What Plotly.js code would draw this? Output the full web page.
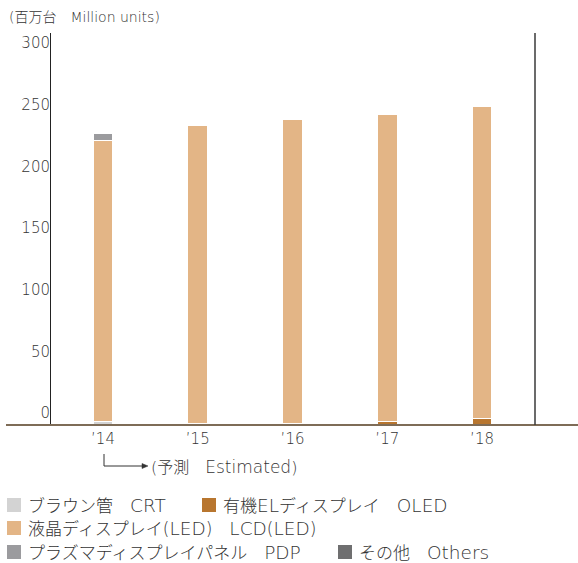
<!DOCTYPE html>
<html>
<head>
<meta charset="utf-8">
<script src="https://cdn.plot.ly/plotly-3.0.1.min.js"></script>
<style>html,body{margin:0;padding:0;background:#fff;}#chart{width:578px;height:563px;}</style>
</head>
<body>
<div id="chart"></div>
<script>
// ---- data ----
var years = ["’14", "’15", "’16", "’17", "’18"];
var crt    = [3, 1.5, 0, 0, 0];
var oled   = [0, 0, 1.5, 2.5, 5];
var lcd    = [228, 241.5, 246.5, 249.5, 253.5];
var pdp    = [5.5, 1, 0, 0, 0];
var others = [0, 0, 0, 0, 0];
var yTicks = [0, 50, 100, 150, 200, 250, 300];

var seriesNames = ["ブラウン管　CRT", "有機ELディスプレイ　OLED", "液晶ディスプレイ(LED)　LCD(LED)", "プラズマディスプレイパネル　PDP", "その他　Others"];
var colors = ["#d3d3d3", "#b8762f", "#e3b586", "#9b9b9e", "#6f6f70"];
var seriesData = [crt, oled, lcd, pdp, others];

var FONT = "'DejaVu Sans', 'Noto Sans CJK JP', sans-serif";
var W = 578, H = 563;
var L = 51, R = 535, T = 33, B = 425;
function px(x){ return (x - L) / (R - L); }
function py(y){ return (B - y) / (B - T); }
function latin(s, size){
  return s.replace(/([A-Za-z][A-Za-z ]*[A-Za-z]|[A-Za-z])/g,
    '<span style="font-size:' + size + 'px">$1</span>');
}

var traces = seriesData.map(function(d, i){
  return {
    type: "bar", x: years, y: d, name: seriesNames[i],
    width: 0.21,
    marker: {color: colors[i], line: {color: "#ffffff", width: 1}},
    showlegend: false, hoverinfo: "skip"
  };
});

var shapes = [
  {type: "line", xref: "paper", yref: "paper", x0: px(6), x1: px(578), y0: 0, y1: 0,
   line: {color: "#7e6c57", width: 2}},
  {type: "line", xref: "paper", yref: "paper", x0: 1, x1: 1, y0: 0, y1: 1,
   line: {color: "#3a3a3a", width: 1.5}},
  {type: "path", xref: "paper", yref: "paper",
   path: "M " + px(104) + " " + py(454) + " L " + px(104) + " " + py(466) + " L " + px(143) + " " + py(466),
   line: {color: "#333", width: 1}},
  {type: "path", xref: "paper", yref: "paper",
   path: "M " + px(142) + " " + py(463.5) + " L " + px(148) + " " + py(466) + " L " + px(142) + " " + py(468.5) + " Z",
   fillcolor: "#333", line: {color: "#333", width: 0.5}}
];

var annotations = [
  {xref: "paper", yref: "paper", x: px(7), y: py(17), xanchor: "left", yanchor: "middle",
   text: "(百万台　Million units)", showarrow: false,
   font: {family: FONT, size: 14, weight: 200, color: "#333"}},
  {xref: "paper", yref: "paper", x: px(149), y: py(467), xanchor: "left", yanchor: "middle",
   text: latin("(予測　Estimated)", 17), showarrow: false,
   font: {family: FONT, size: 16, weight: 200, color: "#333"}}
];

var legendItems = [
  {i: 0, x: 7, y: 505},
  {i: 1, x: 202, y: 505},
  {i: 2, x: 7, y: 528},
  {i: 3, x: 7, y: 552},
  {i: 4, x: 338, y: 552}
];
legendItems.forEach(function(it){
  shapes.push({type: "rect", xref: "paper", yref: "paper",
    x0: px(it.x), x1: px(it.x + 14), y0: py(it.y - 7), y1: py(it.y + 7),
    fillcolor: colors[it.i], line: {width: 0}});
  annotations.push({xref: "paper", yref: "paper", x: px(it.x + 19), y: py(it.y),
    xanchor: "left", yanchor: "middle", text: latin(seriesNames[it.i], 18.5), showarrow: false,
    font: {family: FONT, size: 17, weight: 200, color: "#333"}});
});

var layout = {
  width: W, height: H,
  margin: {l: L, r: W - R, t: T, b: H - B, pad: 0},
  paper_bgcolor: "#fff", plot_bgcolor: "#fff",
  barmode: "stack",
  showlegend: false,
  font: {family: FONT, color: "#333"},
  xaxis: {type: "category", categoryorder: "array", categoryarray: years,
    range: [-0.549, 4.559], showgrid: false, zeroline: false, showline: false,
    ticks: "", ticklabelstandoff: 3,
    tickfont: {family: FONT, size: 15, weight: 200, color: "#333"}, fixedrange: true},
  yaxis: {range: [0, 318], tickvals: yTicks, ticktext: yTicks.map(String),
    showgrid: false, zeroline: false, showline: true, linecolor: "#222", linewidth: 1,
    ticks: "", ticklabelshift: -12, ticklabelstandoff: -3,
    tickfont: {family: FONT, size: 15, weight: 200, color: "#333"}, fixedrange: true},
  shapes: shapes,
  annotations: annotations
};

Plotly.newPlot("chart", traces, layout, {displayModeBar: false, staticPlot: true});
</script>
</body>
</html>
